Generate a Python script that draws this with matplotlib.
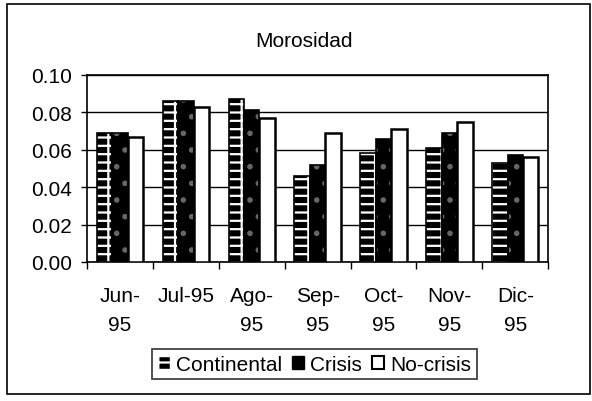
import matplotlib
matplotlib.use("Agg")
import matplotlib.pyplot as plt
from matplotlib.patches import Patch, Rectangle
import numpy as np

plt.rcParams['font.family'] = ['Liberation Sans', 'DejaVu Sans']
plt.rcParams['hatch.linewidth'] = 1.6

categories = ["Jun-\n95", "Jul-95", "Ago-\n95", "Sep-\n95", "Oct-\n95", "Nov-\n95", "Dic-\n95"]
continental = [0.069, 0.086, 0.087, 0.046, 0.058, 0.061, 0.053]
crisis = [0.069, 0.086, 0.081, 0.052, 0.066, 0.069, 0.057]
no_crisis = [0.067, 0.083, 0.077, 0.069, 0.071, 0.075, 0.056]
series_names = ["Continental", "Crisis", "No-crisis"]
yticks = [0.00, 0.02, 0.04, 0.06, 0.08, 0.10]

FS = 15

fig = plt.figure(figsize=(5.92, 4.02), dpi=100)
ax = fig.add_axes([0.147, 0.346, 0.779, 0.465])

x = np.arange(len(categories))
w = 0.235
# Continental: black with white dashes pattern
ax.bar(x - w, continental, w, facecolor='black', edgecolor='white', hatch='-+', linewidth=0, zorder=3)
ax.bar(x - w, continental, w, facecolor='none', edgecolor='black', linewidth=1.2, zorder=4)
# Crisis: black with sparse faint dots
ax.bar(x, crisis, w, facecolor='black', edgecolor='#666666', hatch='.', linewidth=0, zorder=3)
ax.bar(x, crisis, w, facecolor='none', edgecolor='black', linewidth=1.2, zorder=4)
# No-crisis: white
ax.bar(x + w, no_crisis, w, facecolor='white', edgecolor='black', linewidth=1.8, zorder=3)

ax.set_ylim(0, 0.10)
ax.set_xlim(-0.5, len(categories) - 0.5)
ax.set_yticks(yticks)
ax.set_yticklabels([f"{v:.2f}" for v in yticks], fontsize=FS)
ax.yaxis.grid(True, color='black', linewidth=1.0, zorder=0)
ax.set_axisbelow(True)
ax.set_xticks(x)
ax.set_xticklabels(categories, fontsize=FS, linespacing=1.7, va='top')
ax.tick_params(axis='x', length=0, pad=17)
ax.set_xticks(np.arange(len(categories) + 1) - 0.5, minor=True)
ax.tick_params(axis='x', which='minor', length=5, width=1, direction='out', color='black')
ax.tick_params(axis='y', length=4, width=1, direction='out', pad=7)
for s in ax.spines.values():
    s.set_color('black')
    s.set_linewidth(1.2)

fig.text(0.513, 0.896, "Morosidad", ha='center', va='center', fontsize=FS)

handles = [
    Patch(facecolor='black', edgecolor='white', hatch='-+', label=series_names[0]),
    Patch(facecolor='black', edgecolor='black', label=series_names[1]),
    Patch(facecolor='white', edgecolor='black', linewidth=1.5, label=series_names[2]),
]
leg = fig.legend(handles=handles, loc='center', bbox_to_anchor=(0.531, 0.092), ncol=3,
                 fontsize=FS, frameon=True, fancybox=False, handlelength=0.6, handleheight=0.6,
                 handletextpad=0.3, columnspacing=0.45, borderpad=0.25, borderaxespad=0)
leg.get_frame().set_edgecolor('black')
leg.get_frame().set_linewidth(1.2)

fig.patches.append(Rectangle((0.012, 0.018), 0.984, 0.97, transform=fig.transFigure,
                             fill=False, edgecolor='black', linewidth=1.2))

fig.savefig("out.png", dpi=100)
